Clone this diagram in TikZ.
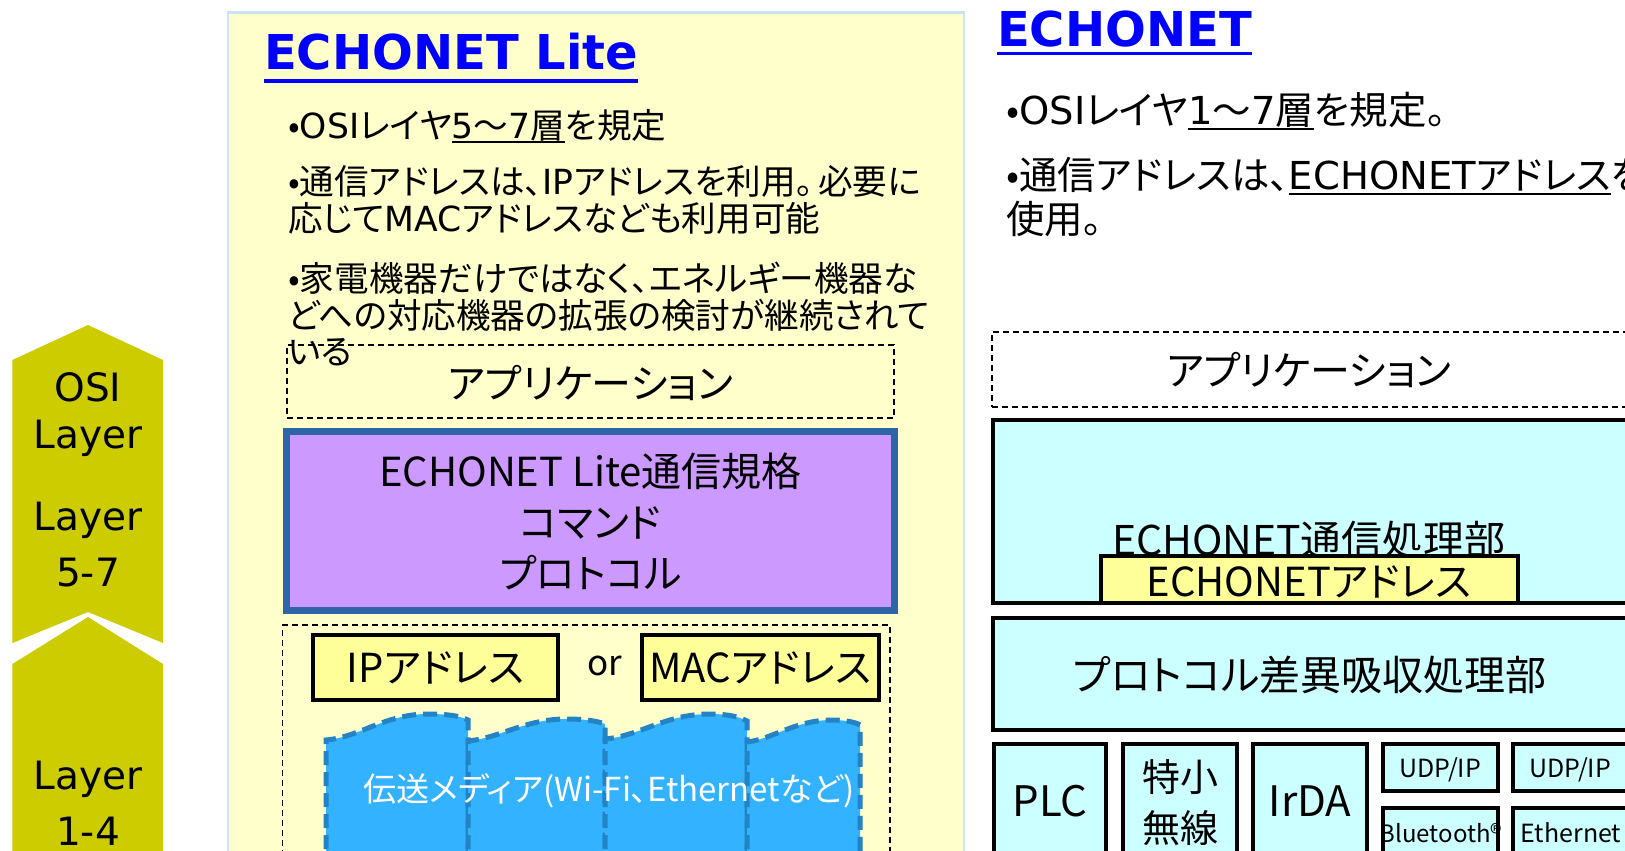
\documentclass[tikz,border=0pt]{standalone}
\usepackage{fontspec}
\setmainfont{Noto Sans CJK JP}[RawFeature=+palt]
\newfontfamily\lat{DejaVu Sans}
\definecolor{chevc}{HTML}{CCCC00}
\definecolor{panelc}{HTML}{FFFFCC}
\definecolor{panelb}{HTML}{C9E4F8}
\definecolor{purplec}{HTML}{CC99FF}
\definecolor{purpleb}{HTML}{2E64A8}
\definecolor{addrc}{HTML}{FFFF99}
\definecolor{cyanc}{HTML}{CCFFFF}
\definecolor{wavec}{HTML}{33B3FF}
\definecolor{waveb}{HTML}{2483C5}
\definecolor{titlec}{HTML}{0000FF}
\newsavebox\ulbox
\newcommand\myul[3]{\sbox\ulbox{#3}\rlap{\rule[-#1]{\wd\ulbox}{#2}}\usebox\ulbox}
\newcommand\fs[1]{\fontsize{#1}{#1}\selectfont}
\newcommand\la[1]{{\lat #1}}
\tikzset{
 chev/.style={fill=chevc},
 chevtxt/.style={font=\lat\fs{39}, inner sep=0pt},
 panel/.style={fill=panelc, draw=panelb, line width=2.5pt},
 box/.style={rectangle, inner sep=0pt, outer sep=0pt},
 dbox/.style={box, draw=black, dash pattern=on 6pt off 4pt, line width=1.6pt},
 purplebox/.style={box, fill=purplec, draw=purpleb, line width=7pt},
 addrbox/.style={box, fill=addrc, draw=black, line width=3.5pt},
 cbox/.style={box, fill=cyanc, draw=black, line width=4pt},
 wave/.style={fill=wavec, draw=waveb, line width=5pt, dash pattern=on 14pt off 7pt},
 txt/.style={inner sep=0pt, text=black},
 bul/.style={txt, anchor=base west, font=\fs{34.6}},
 rbul/.style={txt, anchor=base west, font=\fs{38.5}},
 ttl/.style={txt, anchor=base west, text=titlec, font=\lat\bfseries\fs{48}},
}
\begin{document}
\begin{tikzpicture}[x=1pt,y=-1pt]
\useasboundingbox (0,0) rectangle (1625,851);
\clip (0,0) rectangle (1625,851);
\fill[white] (0,0) rectangle (1625,851);
% chevrons
\fill[chev] (12.4,360) -- (88,325) -- (163,360) -- (163,643) -- (88,612) -- (12.4,643) -- cycle;
\fill[chev] (12.4,664) -- (88,617) -- (163,664) -- (163,870) -- (12.4,870) -- cycle;
\node[chevtxt] (osi) at (88,387) {OSI};
\node[chevtxt] (lay1) at (88,438) {Layer};
\node[chevtxt] (lay2) at (88,520) {Layer};
\node[chevtxt] (l57) at (88,573) {5-7};
\node[chevtxt] (lay3) at (88,779) {Layer};
\node[chevtxt] (l14) at (88,831) {1-4};
% left panel
\draw[panel] (228,12.5) rectangle (964,880);
\node[ttl] (t1) at (264,70) {\myul{13pt}{3.5pt}{ECHONET Lite}};
\node[bul] (b1) at (288,138) {•\la{OSI}レイヤ\myul{5pt}{2.4pt}{\la{5}〜\la{7}層}を規定};
\node[bul] (b2a) at (288,194) {•通信アドレスは、\la{IP}アドレスを利用。\kern0.15em 必要に};
\node[bul] (b2b) at (288,231) {応じて\la{MAC}アドレスなども利用可能};
\node[bul] (b3a) at (288,291) {•家電機器だけではなく、エネルギー機器な};
\node[bul] (b3b) at (288,328) {どへの対応機器の拡張の検討が継続されて};
\node[bul] (b3c) at (288,364) {いる};
\node[dbox, minimum width=607pt, minimum height=73pt] (app1) at (590.5,381.5) {};
\node[txt, font=\fs{40}] (app1t) at (590.5,383) {アプリケーション};
\node[purplebox, minimum width=608pt, minimum height=179pt, align=center, font=\fontsize{40}{51}\selectfont] (elite) at (590.5,521) {ECHONET Lite通信規格\\コマンド\\プロトコル};
\node[dbox, minimum width=607.5pt, minimum height=260pt, anchor=north west] (low) at (282.5,625) {};
\node[addrbox, minimum width=245pt, minimum height=65pt, font=\fs{40}] (ip) at (435.5,667.5) {IPアドレス};
\node[txt, font=\fs{35}] (or) at (605,666) {or};
\node[addrbox, minimum width=237pt, minimum height=65pt, font=\fs{40}] (mac) at (760.5,667.5) {MACアドレス};
% transmission media waves
\filldraw[wave] (326,870) -- (326,740) .. controls (360,737) and (385,714) .. (428,714) .. controls (448,714) and (460,716) .. (468,720) -- (468,870) -- cycle;
\filldraw[wave] (468,870) -- (468,741) .. controls (500,738) and (525,719) .. (566,719) .. controls (585,719) and (597,721) .. (605,724) -- (605,870) -- cycle;
\filldraw[wave] (605,870) -- (605,739) .. controls (640,736) and (665,714) .. (710,714) .. controls (728,714) and (740,717) .. (747,721) -- (747,870) -- cycle;
\filldraw[wave] (747,870) -- (747,742) .. controls (773,739) and (795,720) .. (832,720) .. controls (845,720) and (855,722) .. (860,725) -- (860,870) -- cycle;
\node[txt, text=white, font=\fs{33}] (media) at (609,791) {伝送メディア(Wi-Fi、Ethernetなど)};
% right panel
\node[ttl] (t2) at (997,47) {\myul{8.5pt}{3.5pt}{ECHONET}};
\node[rbul] (r1) at (1006,124) {•\la{OSI}レイヤ\myul{6pt}{2.4pt}{\la{1}〜\la{7}層}を規定。};
\node[rbul] (r2a) at (1006,189) {•通信アドレスは、\myul{6pt}{2.4pt}{\la{ECHONET}アドレス}を};
\node[rbul] (r2b) at (1006,233) {使用。};
\node[dbox, minimum width=636pt, minimum height=75pt, anchor=north west] (app2) at (992,332) {};
\node[txt, font=\fs{40}] (app2t) at (1309,370) {アプリケーション};
\node[cbox, minimum width=635pt, minimum height=183pt, anchor=north west] (proc) at (992.5,420) {};
\node[txt, font=\fs{41}] (proct) at (1309,540) {ECHONET通信処理部};
\node[addrbox, line width=4pt, minimum width=417pt, minimum height=47pt, anchor=north west] (eaddr) at (1101,556) {};
\node[txt, font=\fs{40}] (eaddrt) at (1309,582) {ECHONETアドレス};
\node[cbox, minimum width=635pt, minimum height=112pt, anchor=north west] (prot) at (992.5,618) {};
\node[txt, font=\fs{41}] (prott) at (1310,675) {プロトコル差異吸収処理部};
\node[cbox, line width=4.5pt, minimum width=112pt, minimum height=120pt, anchor=north west] (plc) at (994,744) {};
\node[txt, font=\fs{42}] (plct) at (1050,801) {PLC};
\node[cbox, line width=4.5pt, minimum width=114pt, minimum height=120pt, anchor=north west] (tok) at (1123,744) {};
\node[txt, font=\fontsize{38}{51}\selectfont, align=center] (tokt) at (1180,803) {特小\\無線};
\node[cbox, line width=4.5pt, minimum width=114pt, minimum height=120pt, anchor=north west] (irda) at (1253,744) {};
\node[txt, font=\fs{42}] (irdat) at (1310,801) {IrDA};
\node[cbox, line width=4.5pt, minimum width=115pt, minimum height=47pt, anchor=north west] (udp1) at (1383,744) {};
\node[txt, font=\fs{25}] (udp1t) at (1440,770) {UDP/IP};
\node[cbox, line width=4.5pt, minimum width=115pt, minimum height=60pt, anchor=north west] (bt) at (1383,808) {};
\node[txt, font=\fs{24}] (btt) at (1441,833) {Bluetooth®};
\node[cbox, line width=4.5pt, minimum width=115pt, minimum height=47pt, anchor=north west] (udp2) at (1513,744) {};
\node[txt, font=\fs{25}] (udp2t) at (1570,770) {UDP/IP};
\node[cbox, line width=4.5pt, minimum width=115pt, minimum height=60pt, anchor=north west] (eth) at (1513,808) {};
\node[txt, font=\fs{25}] (etht) at (1571,833) {Ethernet};
\end{tikzpicture}
\end{document}
